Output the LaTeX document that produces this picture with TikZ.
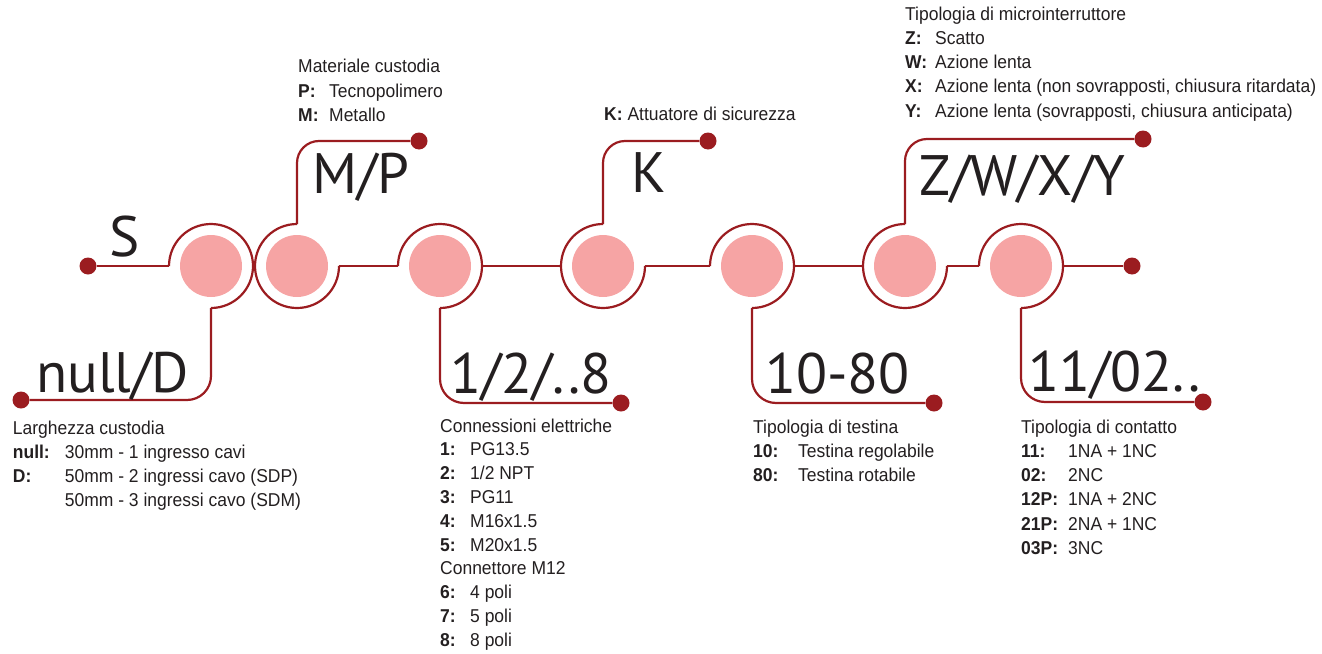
\documentclass[tikz,border=0pt]{standalone}
\usepackage{fontspec}
\usepackage{array}
\newfontfamily\lblfont[FakeStretch=0.94]{Liberation Sans}
\newfontfamily\bigfont{PT Sans}
\definecolor{ringred}{RGB}{155,28,32}
\definecolor{pinkfill}{RGB}{246,164,164}
\definecolor{inkc}{RGB}{35,31,32}
\tikzset{
  ring/.style={draw=ringred, line width=2.2pt},
  pinkc/.style={circle, fill=pinkfill, minimum size=62pt, inner sep=0pt},
  enddot/.style={circle, fill=ringred, minimum size=17pt, inner sep=0pt},
  biglbl/.style={anchor=base west, inner sep=0pt, text=inkc, font=\bigfont\fontsize{57}{57}\selectfont},
  infotxt/.style={anchor=base west, inner sep=0pt, text=inkc, font=\lblfont\fontsize{18.6}{24.3}\selectfont},
  infotight/.style={anchor=base west, inner sep=0pt, text=inkc, font=\lblfont\fontsize{18.6}{23.8}\selectfont},
}
\setlength{\tabcolsep}{0pt}
\begin{document}
\begin{tikzpicture}[x=1pt,y=-1pt]
\useasboundingbox (0,0) rectangle (1322,653);
% pink circles
\node[pinkc] (r1) at (211,266) {};
\node[pinkc] (r2) at (297,266) {};
\node[pinkc] (r3) at (440,266) {};
\node[pinkc] (r4) at (603,266) {};
\node[pinkc] (r5) at (752,266) {};
\node[pinkc] (r6) at (905,266) {};
\node[pinkc] (r7) at (1021,266) {};
% end dots
\node[enddot] (sdot) at (88,266) {};
\node[enddot] (ndot) at (21,400) {};
\node[enddot] (mdot) at (419,141) {};
\node[enddot] (cdot) at (621,403) {};
\node[enddot] (kdot) at (708,141) {};
\node[enddot] (tdot) at (934,403) {};
\node[enddot] (zdot) at (1143,139) {};
\node[enddot] (odot) at (1203,402) {};
\node[enddot] (edot) at (1132,266) {};
% rings
\draw[ring] ([xshift=-42pt]r1.center) arc[start angle=180, end angle=-90, radius=42pt];
\draw[ring] ([yshift=42pt]r2.center) arc[start angle=90, end angle=360, radius=42pt];
\draw[ring] ([xshift=-42pt]r3.center) arc[start angle=180, end angle=-90, radius=42pt];
\draw[ring] ([yshift=42pt]r4.center) arc[start angle=90, end angle=360, radius=42pt];
\draw[ring] ([xshift=-42pt]r5.center) arc[start angle=180, end angle=-90, radius=42pt];
\draw[ring] ([yshift=42pt]r6.center) arc[start angle=90, end angle=360, radius=42pt];
\draw[ring] ([xshift=-42pt]r7.center) arc[start angle=180, end angle=-90, radius=42pt];
% main line
\draw[ring] (sdot) -- ([xshift=-42pt]r1.center);
\draw[ring] ([xshift=42pt]r2.center) -- ([xshift=-42pt]r3.center);
\draw[ring] ([xshift=42pt]r3.center) -- ([xshift=-42pt]r4.center);
\draw[ring] ([xshift=42pt]r4.center) -- ([xshift=-42pt]r5.center);
\draw[ring] ([xshift=42pt]r5.center) -- ([xshift=-42pt]r6.center);
\draw[ring] ([xshift=42pt]r6.center) -- ([xshift=-42pt]r7.center);
\draw[ring] ([xshift=42pt]r7.center) -- (edot);
% brackets
\draw[ring, rounded corners=24pt] ([yshift=-42pt]r1.center) |- (ndot);
\draw[ring, rounded corners=22pt] ([yshift=42pt]r2.center) |- (mdot);
\draw[ring, rounded corners=24pt] ([yshift=-42pt]r3.center) |- (cdot);
\draw[ring, rounded corners=22pt] ([yshift=42pt]r4.center) |- (kdot);
\draw[ring, rounded corners=24pt] ([yshift=-42pt]r5.center) |- (tdot);
\draw[ring, rounded corners=22pt] ([yshift=42pt]r6.center) |- (zdot);
\draw[ring, rounded corners=24pt] ([yshift=-42pt]r7.center) |- (odot);
% big labels
\node[biglbl] (ls) at (109,256) {S};
\node[biglbl] (lnd) at (36,392) {null/D};
\node[biglbl] (lmp) at (312,193) {M/P};
\node[biglbl] (lk) at (631,192) {K};
\node[biglbl] (lz) at (919,195) {Z/W/X/Y};
\node[biglbl] (lc) at (450,393) {1/2/..8};
\node[biglbl] (lt) at (765,393) {10-80};
\node[biglbl] (lo) at (1028,391) {11/02..};
% info texts
\node[infotxt] (i1) at (12.7,434) {\begin{tabular}[t]{@{}>{\bfseries}p{52pt}@{}l@{}}
\multicolumn{2}{@{}l@{}}{Larghezza custodia}\\
null: & 30mm - 1 ingresso cavi\\
D: & 50mm - 2 ingressi cavo (SDP)\\
 & 50mm - 3 ingressi cavo (SDM)
\end{tabular}};
\node[infotxt] (i2) at (298,72.7) {\begin{tabular}[t]{@{}>{\bfseries}p{31pt}@{}l@{}}
\multicolumn{2}{@{}l@{}}{Materiale custodia}\\
P: & Tecnopolimero\\
M: & Metallo
\end{tabular}};
\node[infotxt] (i3) at (604,120) {\textbf{K:} Attuatore di sicurezza};
\node[infotxt] (i4) at (905,20) {\begin{tabular}[t]{@{}>{\bfseries}p{30pt}@{}l@{}}
\multicolumn{2}{@{}l@{}}{Tipologia di microinterruttore}\\
Z: & Scatto\\
W: & Azione lenta\\
X: & Azione lenta (non sovrapposti, chiusura ritardata)\\
Y: & Azione lenta (sovrapposti, chiusura anticipata)
\end{tabular}};
\node[infotight] (i5) at (440,432) {\begin{tabular}[t]{@{}>{\bfseries}p{30pt}@{}l@{}}
\multicolumn{2}{@{}l@{}}{Connessioni elettriche}\\
1: & PG13.5\\
2: & 1/2 NPT\\
3: & PG11\\
4: & M16x1.5\\
5: & M20x1.5\\
\multicolumn{2}{@{}l@{}}{Connettore M12}\\
6: & 4 poli\\
7: & 5 poli\\
8: & 8 poli
\end{tabular}};
\node[infotxt] (i6) at (753,433) {\begin{tabular}[t]{@{}>{\bfseries}p{45pt}@{}l@{}}
\multicolumn{2}{@{}l@{}}{Tipologia di testina}\\
10: & Testina regolabile\\
80: & Testina rotabile
\end{tabular}};
\node[infotxt] (i7) at (1021,433) {\begin{tabular}[t]{@{}>{\bfseries}p{47pt}@{}l@{}}
\multicolumn{2}{@{}l@{}}{Tipologia di contatto}\\
11: & 1NA + 1NC\\
02: & 2NC\\
12P: & 1NA + 2NC\\
21P: & 2NA + 1NC\\
03P: & 3NC
\end{tabular}};
\end{tikzpicture}
\end{document}
